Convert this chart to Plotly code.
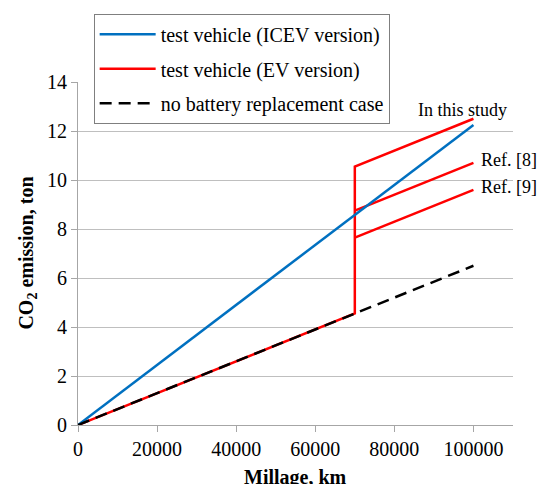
import plotly.graph_objects as go

# Cumulative CO2 emission versus mileage
icev_km = [0, 100000]
icev_co2 = [0, 12.25]

ev_km = [0, 70000, 70000, 100000]
ev_co2 = [0, 4.55, 10.55, 12.5]

ref8_km = [70000, 100000]
ref8_co2 = [8.75, 10.7]

ref9_km = [70000, 100000]
ref9_co2 = [7.65, 9.6]

base_km = [0, 100000]
base_co2 = [0, 6.5]

x_ticks = [0, 20000, 40000, 60000, 80000, 100000]
y_ticks = [0, 2, 4, 6, 8, 10, 12, 14]

FONT = "Liberation Serif"
BLUE = "#0070C0"
RED = "#FF0000"

fig = go.Figure()

fig.add_trace(go.Scatter(x=ev_km, y=ev_co2, mode="lines", name="test vehicle (EV version)",
                         line=dict(color=RED, width=2.5), legendrank=2, legendgroup="ev"))
fig.add_trace(go.Scatter(x=ref8_km, y=ref8_co2, mode="lines", showlegend=False,
                         line=dict(color=RED, width=2.5), legendgroup="ev"))
fig.add_trace(go.Scatter(x=ref9_km, y=ref9_co2, mode="lines", showlegend=False,
                         line=dict(color=RED, width=2.5), legendgroup="ev"))
fig.add_trace(go.Scatter(x=icev_km, y=icev_co2, mode="lines", name="test vehicle (ICEV version)",
                         line=dict(color=BLUE, width=2.5), legendrank=1, legendgroup="icev"))
fig.add_trace(go.Scatter(x=base_km, y=base_co2, mode="lines", name="no battery replacement case",
                         line=dict(color="black", width=2.5, dash="12px,7px"), legendrank=3,
                         legendgroup="base"))

labels = [("In this study", 85500, 12.85), ("Ref. [8]", 101500, 10.8), ("Ref. [9]", 101500, 9.7)]
for text, lx, ly in labels:
    fig.add_annotation(x=lx, y=ly, text=text, showarrow=False, xanchor="left", yanchor="middle",
                       font=dict(family=FONT, size=18, color="black"))

fig.add_annotation(xref="paper", yref="paper", x=-0.117, y=0.5,
                   text="<b>CO<sub>2</sub> emission, ton</b>", textangle=-90, showarrow=False,
                   xanchor="center", yanchor="middle", font=dict(family=FONT, size=20, color="black"))
fig.add_annotation(xref="paper", yref="paper", x=0.5, y=-0.115,
                   text="<b>Millage, km</b>", showarrow=False,
                   xanchor="center", yanchor="top", font=dict(family=FONT, size=20, color="black"))

fig.update_layout(
    width=540, height=484,
    margin=dict(l=78, r=27, t=82, b=59),
    paper_bgcolor="white", plot_bgcolor="white",
    font=dict(family=FONT, size=20, color="black"),
    showlegend=True,
    legend=dict(x=0.036, y=1.199, xanchor="left", yanchor="top",
                bgcolor="white", bordercolor="#7f7f7f", borderwidth=1,
                font=dict(family=FONT, size=20, color="black"),
                traceorder="grouped", tracegroupgap=5.5, itemwidth=56,
                entrywidth=236, entrywidthmode="pixels"),
    xaxis=dict(range=[0, 110000], tickvals=x_ticks, ticktext=[str(v) for v in x_ticks],
               showgrid=False, zeroline=False, showline=True, linecolor="#a6a6a6", linewidth=1,
               ticks="outside", ticklen=6, tickcolor="#a6a6a6",
               tickfont=dict(family=FONT, size=20, color="black")),
    yaxis=dict(range=[0, 14], tickvals=y_ticks, showgrid=True, gridcolor="#bfbfbf", gridwidth=1,
               zeroline=False, showline=True, linecolor="#a6a6a6", linewidth=1,
               ticks="outside", ticklen=6, tickcolor="#a6a6a6",
               tickfont=dict(family=FONT, size=20, color="black")),
)

fig.write_html("out.html")
